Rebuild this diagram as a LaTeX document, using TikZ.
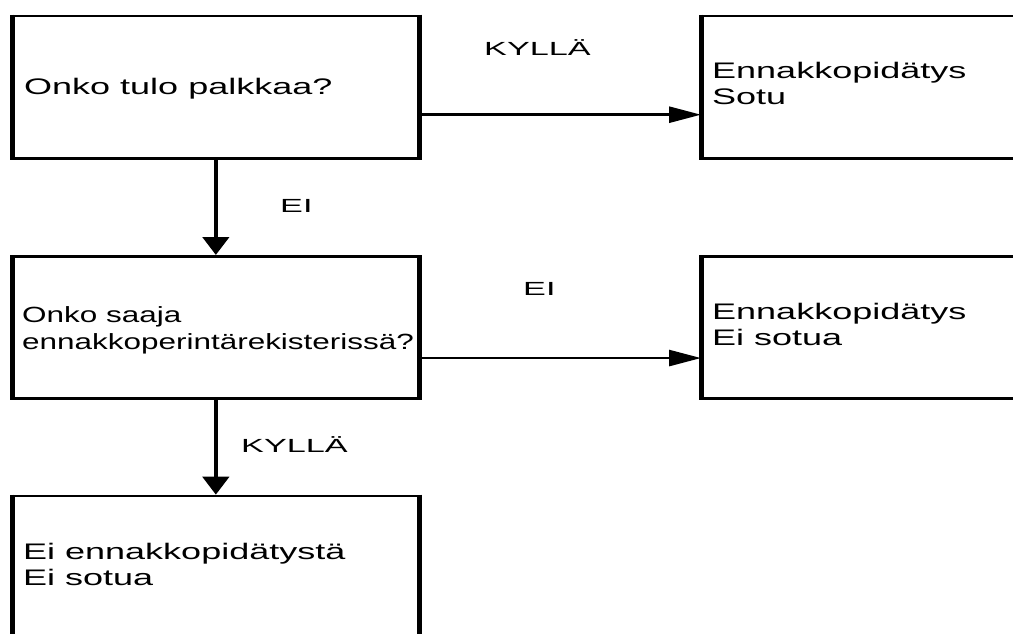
\documentclass[tikz,border=0pt]{standalone}
\usepackage{fontspec}
\setmainfont{Liberation Sans}
\newfontfamily\boxfont[FakeStretch=1.6]{Liberation Sans}
\newfontfamily\narrowfont[FakeStretch=1.43]{Liberation Sans}
\newfontfamily\labfont[FakeStretch=1.8]{Liberation Sans}
\usetikzlibrary{arrows.meta}
\newcommand{\twolines}[2]{\begin{tabular}[t]{@{}l@{}}#1\\#2\end{tabular}}
\tikzset{
  box/.style={draw, line width=2.7pt, rectangle, inner sep=0pt, anchor=north west},
  vside/.style={line width=4.5pt},
  btext/.style={inner sep=0pt, anchor=base west, font=\boxfont\fontsize{22.5}{26}\selectfont},
  ntext/.style={inner sep=0pt, anchor=base west, font=\narrowfont\fontsize{22}{26.5}\selectfont},
  lab/.style={inner sep=0pt, anchor=base west, font=\labfont\fontsize{19}{22}\selectfont},
  harrow/.style={line width=2.7pt, -{Triangle[length=32pt,width=16pt]}},
  varrow/.style={line width=4.5pt, -{Triangle[length=18pt,width=26pt]}}
}
\begin{document}
\begin{tikzpicture}[x=1pt,y=-1pt]
\useasboundingbox (0,0) rectangle (1013,634);
\clip (0,0) rectangle (1013,634);
% boxes
\node[box, minimum width=405pt, minimum height=142.3pt] (b1) at (12,14.7) {};
\node[box, minimum width=405pt, minimum height=142pt] (b2) at (12,255) {};
\node[box, minimum width=405pt, minimum height=200pt] (b3) at (12,494.7) {};
\node[box, minimum width=400pt, minimum height=142.3pt] (r1) at (701,14.7) {};
\node[box, minimum width=400pt, minimum height=142pt] (r2) at (701,255) {};
\foreach \b in {b1,b2,b3,r1,r2}{
  \draw[vside] (\b.north west) -- (\b.south west);
  \draw[vside] (\b.north east) -- (\b.south east);
}
% texts
\node[btext] (t1) at (24,95) {Onko tulo palkkaa?};
\node[ntext] (t2) at (22,322.7) {\twolines{Onko saaja}{ennakkoperintärekisterissä?}};
\node[btext] (t3) at (23,559) {\twolines{Ei ennakkopidätystä}{Ei sotua}};
\node[btext] (t4) at (712,79) {\twolines{Ennakkopidätys}{Sotu}};
\node[btext] (t5) at (712,319) {\twolines{Ennakkopidätys}{Ei sotua}};
% labels
\node[lab] (l1) at (484,56) {KYLLÄ};
\node[lab] (l2) at (280,212) {EI};
\node[lab] (l3) at (523,295) {EI};
\node[lab] (l4) at (241,452) {KYLLÄ};
% connectors
\draw[harrow] ([yshift=-27.5pt]b1.east) -- ([yshift=-27.5pt]r1.west);
\draw[harrow] ([yshift=-30.7pt]b2.east) -- ([yshift=-30.7pt]r2.west);
\draw[varrow] (b1.south) -- (b2.north);
\draw[varrow] (b2.south) -- (b3.north);
\end{tikzpicture}
\end{document}
